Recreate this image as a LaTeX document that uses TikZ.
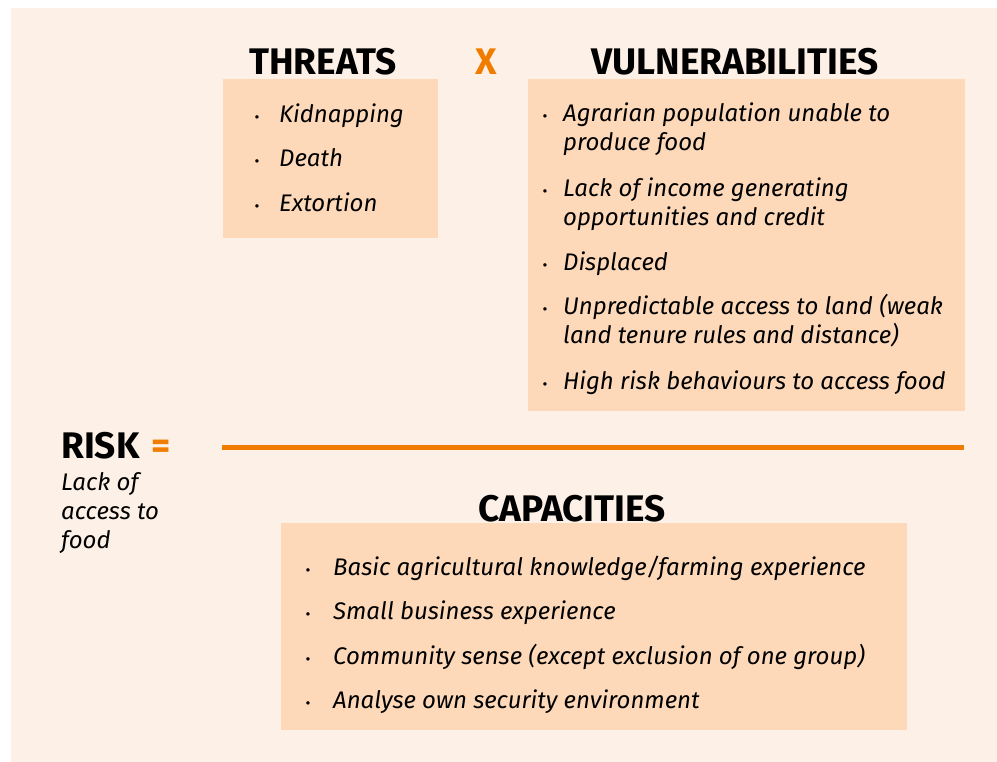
\documentclass[tikz,border=0pt]{standalone}
\usepackage{fontspec}
\setmainfont{Fira Sans}
\definecolor{bgcream}{HTML}{FDF1E7}
\definecolor{boxpeach}{HTML}{FDD9BA}
\definecolor{accent}{HTML}{F07D00}
\begin{document}
\begin{tikzpicture}[x=1pt,y=-1pt,
  box/.style={fill=boxpeach, draw=none, inner sep=0pt, anchor=north west},
  title/.style={font=\fontsize{37}{40}\selectfont\bfseries, inner sep=0pt, anchor=base},
  item/.style={font=\fontsize{24}{29}\selectfont\itshape, inner sep=0pt, anchor=base west, align=left},
  dot/.style={font=\fontsize{15}{16}\selectfont, inner sep=0pt, anchor=base},
  op/.style={font=\fontsize{37}{40}\selectfont\bfseries, text=accent, inner sep=0pt, anchor=base}]
\useasboundingbox (0,0) rectangle (997,762);
\fill[white] (0,0) rectangle (997,762);
\fill[bgcream] (11,8) rectangle (997,762);
% boxes
\node[box, minimum width=215pt, minimum height=159pt] (tbox) at (223,79) {};
\node[box, minimum width=437pt, minimum height=332pt] (vbox) at (528,79) {};
\node[box, minimum width=626pt, minimum height=207pt] (cbox) at (281,523) {};
% titles
\node[title] (threats) at (323,75) {THREATS};
\node[op] (times) at (486,75) {X};
\node[title] (vuln) at (735,75) {VULNERABILITIES};
\node[title] (caps) at (572,521) {CAPACITIES};
% threats
\node[dot] (td1) at (257,123) {•};
\node[item] (t1) at (279,123) {Kidnapping};
\node[dot] (td2) at (257,167) {•};
\node[item] (t2) at (279,167) {Death};
\node[dot] (td3) at (257,212) {•};
\node[item] (t3) at (279,212) {Extortion};
% vulnerabilities (base anchor = last line)
\node[dot] (vd1) at (545,122) {•};
\node[item] (v1) at (563,151) {Agrarian population unable to\\produce food};
\node[dot] (vd2) at (545,197) {•};
\node[item] (v2) at (563,226) {Lack of income generating\\opportunities and credit};
\node[dot] (vd3) at (545,271) {•};
\node[item] (v3) at (563,271) {Displaced};
\node[dot] (vd4) at (545,315) {•};
\node[item] (v4) at (563,344) {Unpredictable access to land (weak\\land tenure rules and distance)};
\node[dot] (vd5) at (545,389) {•};
\node[item] (v5) at (563,389) {High risk behaviours to access food};
% fraction line
\coordinate (lineL) at (222,447);
\coordinate (lineR) at (964,447);
\draw[accent, line width=5pt] (lineL) -- (lineR);
% risk
\node[title, anchor=base west] (risk) at (61,458) {RISK};
\node[op] (eq) at (161,458) {=};
\node[item] (riskdesc) at (61,548) {Lack of\\access to\\food};
% capacities
\node[dot] (cd1) at (308,575) {•};
\node[item] (c1) at (333,575) {Basic agricultural knowledge/farming experience};
\node[dot] (cd2) at (308,619) {•};
\node[item] (c2) at (333,619) {Small business experience};
\node[dot] (cd3) at (308,664) {•};
\node[item] (c3) at (333,664) {Community sense (except exclusion of one group)};
\node[dot] (cd4) at (308,708) {•};
\node[item] (c4) at (333,708) {Analyse own security environment};
\end{tikzpicture}
\end{document}
